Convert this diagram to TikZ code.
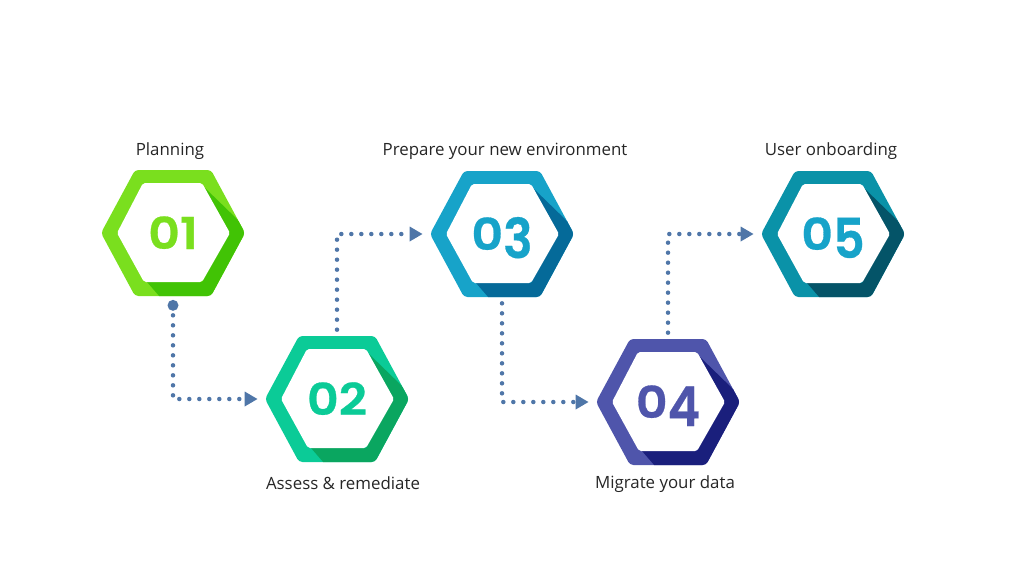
\documentclass[tikz,border=0pt]{standalone}
\usepackage{fontspec}
\usepackage{xcolor}
\usetikzlibrary{arrows.meta}
\setmainfont{Open Sans}
\newfontfamily\numfont{Poppins SemiBold}[FakeStretch=1.12,FakeBold=0.6]

\definecolor{lightA}{HTML}{7ADF1E}
\definecolor{darkA}{HTML}{41C305}
\definecolor{lightB}{HTML}{0BCB97}
\definecolor{darkB}{HTML}{0AA660}
\definecolor{lightC}{HTML}{17A3C9}
\definecolor{darkC}{HTML}{056A99}
\definecolor{lightD}{HTML}{4F55AB}
\definecolor{darkD}{HTML}{1A1F7C}
\definecolor{lightE}{HTML}{0A92A8}
\definecolor{darkE}{HTML}{045468}
\definecolor{flowcol}{HTML}{4F76A8}

\tikzset{
    hexnum/.style={minimum width=2.88cm, minimum height=2.52cm, inner sep=0pt,
        text height=0.64cm, text depth=0pt,
        font=\numfont\fontsize{25}{25}\selectfont},
    steplabel/.style={font=\fontsize{9.6}{12}\selectfont, text=black!85},
    flow/.style={flowcol, line width=0.09cm, line cap=round, dash pattern=on 0pt off 0.2cm,
        -{Triangle[length=0.26cm,width=0.28cm,fill=flowcol,color=flowcol]}},
}

% digit hanging below the line
\newcommand{\lowdigit}[1]{\raisebox{-0.16cm}{\scalebox{1}[1.25]{#1}}}

% one hexagon: centre, light colour, dark colour
\newcommand{\hexring}[3]{
    \begin{scope}[shift={#1}]
        \fill[#2, rounded corners=0.07cm] (-72,0) -- (-38,-63) -- (38,-63) -- (72,0) -- (38,63) -- (-38,63) -- cycle;
        \begin{scope}
            \clip[rounded corners=0.07cm] (-72,0) -- (-38,-63) -- (38,-63) -- (72,0) -- (38,63) -- (-38,63) -- cycle;
            \fill[#3] (32,-45) -- (55,-1) -- (29,49) -- (-26,49) -- (-13,64) -- (40,64) -- (74,-1) -- (65,-13) -- cycle;
        \end{scope}
        \fill[white, rounded corners=0.04cm] (-56,0) -- (-30,-50) -- (29,-50) -- (57,0) -- (29,49) -- (-29,49) -- cycle;
    \end{scope}
}

\begin{document}
\begin{tikzpicture}[x=0.02cm, y=-0.02cm]
    \useasboundingbox (0,0) rectangle (1024,576);

    \hexring{(173,233)}{lightA}{darkA}
    \hexring{(337,399)}{lightB}{darkB}
    \hexring{(502,234)}{lightC}{darkC}
    \hexring{(668,402)}{lightD}{darkD}
    \hexring{(833,234)}{lightE}{darkE}

    \node[hexnum, text=lightA] (hexA) at (173,233) {01};
    \node[hexnum, text=lightB] (hexB) at (337,399) {02};
    \node[hexnum, text=lightC] (hexC) at (502,234) {0\lowdigit{3}};
    \node[hexnum, text=lightD] (hexD) at (668,402) {0\lowdigit{4}};
    \node[hexnum, text=lightC] (hexE) at (833,234) {0\lowdigit{5}};

    \node[steplabel] (labA) at (170,151.5) {Planning};
    \node[steplabel] (labB) at (343,483) {Assess \& remediate};
    \node[steplabel] (labC) at (505,151.5) {Prepare your new environment};
    \node[steplabel] (labD) at (665,484) {Migrate your data};
    \node[steplabel] (labE) at (831,151.5) {User onboarding};

    % start dot below the first hexagon
    \coordinate (startA) at ([yshift=-0.18cm]hexA.south);
    \fill[flowcol] (startA) circle (5.5);

    \coordinate (startB) at ([yshift=0.12cm]hexB.north);
    \coordinate (startC) at ([yshift=-0.12cm]hexC.south);
    \coordinate (startD) at ([yshift=0.12cm]hexD.north);

    \draw[flow] (startA) |- ([xshift=-0.14cm]hexB.west);
    \draw[flow] (startB) |- ([xshift=-0.14cm]hexC.west);
    \draw[flow] (startC) |- ([xshift=-0.14cm]hexD.west);
    \draw[flow] (startD) |- ([xshift=-0.14cm]hexE.west);
\end{tikzpicture}
\end{document}
